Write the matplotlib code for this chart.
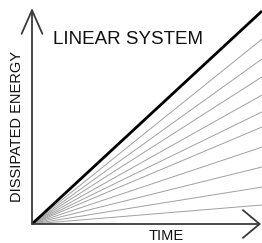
import numpy as np
import matplotlib
matplotlib.use("Agg")
import matplotlib.pyplot as plt

plt.rcParams["font.family"] = ["Liberation Sans", "DejaVu Sans"]

# normalised time axis and end-point energies of the lines (fraction of axis height)
time_end = 1.0
black_end = 0.986
gray_ends = [0.088, 0.171, 0.264, 0.356, 0.449, 0.519, 0.597, 0.681, 0.764, 0.856]

title = "LINEAR SYSTEM"
xlabel = "TIME"
ylabel = "DISSIPATED ENERGY"

W, H = 262, 243
fig = plt.figure(figsize=(W / 100, H / 100), dpi=100)
# origin of the plot sits at pixel (32, 224), top of y arrow at pixel 8
ax = fig.add_axes([32 / W, (H - 224) / H, 230 / W, 216 / H])
ax.set_xlim(0, 1)
ax.set_ylim(0, 1)
ax.axis("off")

t = np.array([0.0, time_end])
for e in gray_ends:
    ax.plot(t, t * e, color="#a0a0a0", lw=0.7, solid_capstyle="butt")
ax.plot(t, t * black_end, color="black", lw=2.0, solid_capstyle="butt")

# axes with open arrow heads
ax.annotate("", xy=(0, 1.0), xytext=(0, 0), xycoords="axes fraction",
            arrowprops=dict(arrowstyle="->,head_length=1.7,head_width=0.75",
                            color="#3a3a3a", lw=1.3, shrinkA=0, shrinkB=0))
ax.annotate("", xy=(229 / 230, 0), xytext=(0, 0), xycoords="axes fraction",
            arrowprops=dict(arrowstyle="->,head_length=1.2,head_width=1.0",
                            color="#3a3a3a", lw=1.3, shrinkA=0, shrinkB=0))

fig.text(128 / W, 1 - 40 / H, title, fontsize=13.5, ha="center", va="center", color="#111111")
fig.text(166 / W, 1 - 236 / H, xlabel, fontsize=10.5, ha="center", va="center", color="#111111")
fig.text(17 / W, 1 - 126 / H, ylabel, fontsize=10.5, ha="center", va="center",
         rotation=90, color="#111111")

fig.savefig("out.png", dpi=100)
